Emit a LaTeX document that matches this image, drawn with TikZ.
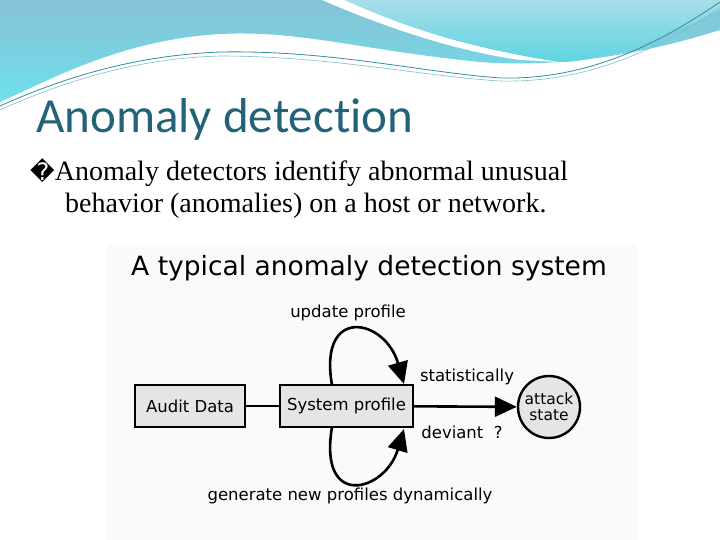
\documentclass[tikz,border=0pt]{standalone}
\usepackage{fontspec}
\setmainfont{Liberation Serif}
\newfontfamily\titlefont[Ligatures={NoCommon,NoDiscretionary,NoRare}]{Carlito}
\newfontfamily\diafont{DejaVu Sans}
\usetikzlibrary{arrows.meta}
\definecolor{titlecol}{HTML}{22637A}
\definecolor{waveA}{HTML}{86C2D6}
\definecolor{waveB}{HTML}{6FE0EC}
\definecolor{waveC}{HTML}{A8DDE8}
\definecolor{waveD}{HTML}{2F8FA0}
\tikzset{
  boxst/.style={draw, line width=2.4pt, fill=gray!20, minimum height=42pt, font=\diafont\fontsize{16.5}{18}\selectfont, inner sep=2pt},
  lab/.style={font=\diafont\fontsize{16.5}{18}\selectfont, inner sep=0pt},
  con/.style={line width=2.6pt},
  arr/.style={line width=2.6pt, -{Triangle[length=22pt,width=20pt]}},
}
\begin{document}
\begin{tikzpicture}[x=1pt,y=-1pt]
\useasboundingbox (0,0) rectangle (720,540);
\fill[white] (0,0) rectangle (720,540);
% top wave
\shade[top color=waveA, bottom color=waveB] (0,0) -- (720,0) -- (720,30) .. controls (640,55) and (560,68) .. (480,62)
  .. controls (360,50) and (300,30) .. (220,34) .. controls (120,40) and (50,80) .. (0,102) -- cycle;
\fill[white] (322,0) .. controls (380,25) and (450,50) .. (520,60) -- (560,62) .. controls (450,45) and (390,20) .. (345,0) -- cycle;
\shade[top color=waveC, bottom color=waveA!70!cyan] (345,0) -- (720,0) -- (720,10) .. controls (660,40) and (600,62) .. (560,62)
  .. controls (450,45) and (390,20) .. (345,0) -- cycle;
\draw[waveD, line width=0.8pt] (0,106) .. controls (80,70) and (150,55) .. (220,52) .. controls (330,50) and (420,72) .. (500,78)
  .. controls (580,80) and (650,50) .. (720,2);
\draw[waveD!60, line width=0.6pt] (0,110) .. controls (80,74) and (150,58) .. (220,56) .. controls (330,56) and (420,76) .. (500,81)
  .. controls (580,83) and (650,55) .. (720,8);
% title and bullet
\node[anchor=base west, inner sep=0pt, text=titlecol, font=\titlefont\fontsize{49}{54}\selectfont] (title) at (36,133) {Anomaly detection};
\node[anchor=base west, inner sep=0pt, font=\fontsize{28}{32}\selectfont] (b1) at (30,181) {{\diafont\fontsize{24}{28}\selectfont\char"FFFD}Anomaly detectors identify abnormal unusual};
\node[anchor=base west, inner sep=0pt, font=\fontsize{28}{32}\selectfont] (b2) at (65,213) {behavior (anomalies) on a host or network.};
% diagram background
\fill[gray!4] (107,245) rectangle (637,540);
\node[lab, font=\diafont\fontsize{26.5}{30}\selectfont, anchor=base] (dt) at (369,275) {A typical anomaly detection system};
\node[boxst, minimum width=110pt] (audit) at (190,406) {Audit Data};
\node[boxst, minimum width=133pt] (sys) at (346.5,406) {System profile};
\node[draw, circle, line width=2.4pt, fill=gray!20, minimum size=62pt, inner sep=0pt, align=center, font=\diafont\fontsize{15.5}{16}\selectfont] (att) at (549,407) {attack\\[0pt]state};
\draw[con] (audit) -- (sys);
\draw[arr] (sys) -- (att);
\coordinate (ut) at (332,385);
\coordinate (ue) at (404,384);
\coordinate (lt) at (332,427);
\coordinate (le) at (404,429);
\draw[arr] (ut) .. controls (318,305) and (385,318) .. (ue);
\draw[arr] (lt) .. controls (318,510) and (385,492) .. (le);
\node[lab] (up) at (348,313) {update profile};
\node[lab] (st) at (467,377) {statistically};
\node[lab] (dv) at (462,432) {deviant \ ?};
\node[lab] (gn) at (350,496) {generate new profiles dynamically};
\end{tikzpicture}
\end{document}
